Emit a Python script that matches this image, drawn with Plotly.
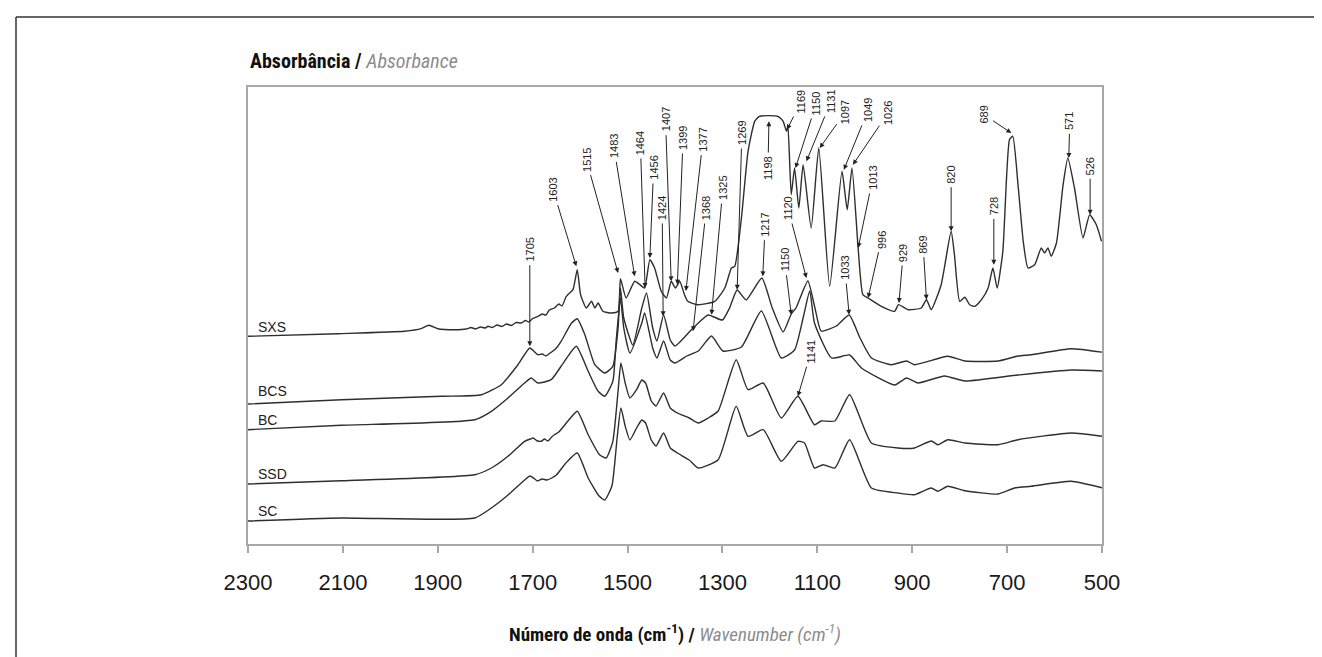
import plotly.graph_objects as go

# ---------------- data (absorbance, arbitrary offset units) ----------------
wn_sxs = [2300, 2110, 1970, 1935, 1919, 1900, 1864, 1840, 1830, 1820, 1810, 1800, 1794, 1785, 1775, 1765,
          1755, 1745, 1735, 1724, 1715, 1708, 1700, 1689, 1680, 1672, 1665, 1654, 1645, 1638, 1630,
          1626, 1615, 1606, 1599,
          1587, 1576, 1569, 1562, 1552, 1534, 1520, 1515, 1503, 1485, 1474, 1464, 1453, 1443, 1429,
          1418, 1408, 1399, 1390, 1380, 1373, 1352, 1316, 1295, 1281, 1274, 1260, 1246, 1232, 1222,
          1183, 1172, 1165, 1162, 1155, 1148, 1139, 1130, 1113, 1097, 1074, 1048, 1037, 1027, 1014,
          1004, 993, 965, 937, 929, 909, 881, 870, 860, 839, 818, 811, 800, 789, 779, 768, 754, 740,
          730, 721, 709, 695, 688, 677, 666, 656, 642, 628, 621, 614, 607, 596, 582, 572, 558, 540,
          526, 512, 501]
a_sxs = [2.077, 2.103, 2.127, 2.153, 2.187, 2.153, 2.143, 2.15, 2.165, 2.15, 2.17, 2.16, 2.177, 2.165, 2.19, 2.175,
         2.20, 2.185, 2.215, 2.21, 2.235, 2.22, 2.255, 2.277, 2.30, 2.29, 2.34, 2.36, 2.40, 2.38, 2.47,
         2.493, 2.543, 2.743, 2.493,
         2.36, 2.427, 2.36, 2.41, 2.327, 2.31, 2.327, 2.653, 2.46, 2.627, 2.593, 2.56, 2.843, 2.76, 2.527,
         2.46, 2.627, 2.56, 2.627, 2.493, 2.427, 2.393, 2.427, 2.56, 2.76, 2.777, 3.26, 3.927, 4.227, 4.277,
         4.277, 4.227, 4.127, 4.177, 3.493, 3.76, 3.36, 3.793, 3.16, 3.96, 2.577, 3.727, 3.343, 3.76, 2.96,
         2.493, 2.46, 2.377, 2.327, 2.393, 2.343, 2.36, 2.443, 2.343, 2.593, 3.127, 2.893, 2.427, 2.467, 2.393, 2.377, 2.443, 2.56,
         2.76, 2.56, 2.927, 4.043, 4.077, 3.593, 3.027, 2.76, 2.793, 2.96, 2.91, 2.96, 2.877, 3.01, 3.593, 3.86, 3.56, 3.06,
         3.293, 3.193, 3.027]

wn_bcs = [2300, 2103, 1892, 1808, 1766, 1731, 1706, 1689, 1680, 1672, 1668, 1660, 1652, 1640, 1618, 1606,
          1590, 1569, 1548,
          1531, 1520, 1515, 1508, 1489, 1470, 1460, 1447, 1438, 1424, 1410, 1400, 1368, 1351, 1330,
          1300, 1285, 1269, 1250, 1217, 1195, 1172, 1155, 1145, 1120, 1105, 1092, 1060, 1033, 1010,
          986, 944, 912, 895, 825, 789, 719, 677, 649, 565, 498]
a_bcs = [1.40, 1.443, 1.477, 1.493, 1.593, 1.793, 1.96, 1.893, 1.90, 1.88, 1.893, 1.92, 1.95, 2.027, 2.21, 2.253,
         2.093, 1.793, 1.71,
         1.777, 2.16, 2.56, 2.26, 1.99, 2.36, 2.51, 2.16, 2.03, 2.29, 2.04, 1.98, 2.13, 2.21, 2.29,
         2.24, 2.36, 2.54, 2.44, 2.66, 2.36, 2.12, 2.30, 2.36, 2.63, 2.36, 2.13, 2.18, 2.29, 2.06,
         1.86, 1.793, 1.83, 1.793, 1.877, 1.83, 1.83, 1.88, 1.893, 1.953, 1.917]

wn_bc = [2300, 2103, 1822, 1787, 1752, 1717, 1703, 1689, 1661, 1633, 1608, 1583, 1562, 1548, 1531,
         1524, 1515, 1508, 1495, 1470, 1464, 1447, 1438, 1424, 1410, 1400, 1375, 1351, 1323, 1299,
         1260, 1218, 1176, 1148, 1130, 1116, 1106, 1070, 1032, 1007, 937, 912, 888, 832, 789, 677,
         565, 498]
a_bc = [1.143, 1.187, 1.243, 1.327, 1.46, 1.61, 1.66, 1.61, 1.643, 1.827, 1.977, 1.727, 1.527, 1.477, 1.627,
        2.03, 2.46, 2.16, 1.91, 2.21, 2.31, 1.96, 1.86, 2.03, 1.84, 1.81, 1.88, 1.93, 2.08, 1.93,
        1.97, 2.33, 1.86, 1.94, 2.26, 2.53, 2.21, 1.86, 1.89, 1.76, 1.59, 1.66, 1.61, 1.68, 1.63, 1.69,
        1.74, 1.73]

wn_ssd = [2300, 2103, 1822, 1787, 1752, 1717, 1705, 1699, 1692, 1682, 1675, 1668, 1660, 1654, 1645, 1626,
          1606, 1583, 1559, 1545, 1531,
          1520, 1514, 1505, 1495, 1481, 1470, 1462, 1450, 1440, 1424, 1410, 1395, 1370, 1351, 1330,
          1309, 1271, 1246, 1214, 1176, 1141, 1106, 1092, 1063, 1032, 986, 930, 895, 860, 846, 825,
          789, 719, 677, 565, 498]
a_ssd = [0.60, 0.633, 0.693, 0.76, 0.877, 1.027, 1.05, 1.06, 1.035, 1.027, 1.05, 1.03, 1.07, 1.093, 1.12, 1.227,
         1.327, 1.093, 0.893, 0.86, 1.027,
         1.53, 1.81, 1.61, 1.46, 1.543, 1.64, 1.61, 1.43, 1.38, 1.51, 1.36, 1.31, 1.26, 1.21, 1.26,
         1.33, 1.843, 1.543, 1.61, 1.26, 1.477, 1.193, 1.23, 1.23, 1.493, 1.01, 0.96, 0.96, 1.03, 0.993, 1.043,
         1.01, 0.993, 1.043, 1.11, 1.077]

wn_sc = [2300, 2103, 1822, 1787, 1752, 1717, 1706, 1697, 1690, 1680, 1670, 1660, 1650, 1630, 1606,
         1583, 1560, 1548, 1533,
         1522, 1514, 1505, 1495, 1481, 1470, 1462, 1450, 1440, 1424, 1410, 1395, 1370, 1351, 1309,
         1271, 1246, 1214, 1176, 1141, 1127, 1106, 1088, 1063, 1032, 986, 930, 895, 860, 846, 825,
         789, 719, 684, 649, 565, 498]
a_sc = [0.23, 0.26, 0.26, 0.36, 0.49, 0.64, 0.68, 0.655, 0.63, 0.65, 0.64, 0.66, 0.69, 0.81, 0.91,
        0.66, 0.48, 0.44, 0.58,
        1.06, 1.36, 1.18, 1.04, 1.16, 1.24, 1.21, 1.04, 0.98, 1.11, 0.96, 0.91, 0.84, 0.76, 0.843,
        1.377, 1.077, 1.143, 0.827, 1.027, 1.01, 0.76, 0.793, 0.76, 1.043, 0.56, 0.51, 0.493, 0.56, 0.527, 0.577,
        0.533, 0.50, 0.56, 0.577, 0.627, 0.56]

series_names = ["SXS", "BCS", "BC", "SSD", "SC"]
series_label_y = [2.17, 1.53, 1.24, 0.70, 0.335]

tick_vals = [2300, 2100, 1900, 1700, 1500, 1300, 1100, 900, 700, 500]

# peak labels: text, peak wavenumber, absorbance at arrow tip, label wavenumber, label absorbance
peak_labels = [
    ("1705", 1706, 1.977, 1706, 2.943),
    ("1603", 1608, 2.777, 1657, 3.543),
    ("1515", 1520, 2.71, 1587, 3.843),
    ("1483", 1485, 2.677, 1529, 3.977),
    ("1464", 1463, 2.56, 1473, 4.01),
    ("1456", 1453, 2.86, 1445, 3.76),
    ("1424", 1425, 2.277, 1427, 3.36),
    ("1407", 1408, 2.627, 1420, 4.243),
    ("1399", 1395, 2.593, 1383, 4.06),
    ("1377", 1377, 2.53, 1341, 4.043),
    ("1368", 1362, 2.127, 1334, 3.36),
    ("1325", 1323, 2.293, 1299, 3.56),
    ("1269", 1269, 2.543, 1259, 4.11),
    ("1217", 1215, 2.677, 1210, 3.193),
    ("1198", 1202, 4.227, 1204, 3.76),
    ("1169", 1164, 4.143, 1134, 4.427),
    ("1150", 1146, 3.76, 1102, 4.41),
    ("1131", 1123, 3.827, 1071, 4.43),
    ("1097", 1095, 3.96, 1041, 4.32),
    ("1049", 1044, 3.743, 993, 4.34),
    ("1026", 1025, 3.793, 951, 4.31),
    ("1120", 1123, 2.66, 1162, 3.36),
    ("1150", 1155, 2.293, 1169, 2.843),
    ("1033", 1033, 2.293, 1042, 2.76),
    ("1013", 1014, 2.96, 983, 3.66),
    ("996", 993, 2.46, 965, 3.043),
    ("929", 928, 2.41, 919, 2.91),
    ("869", 870, 2.443, 877, 2.993),
    ("820", 818, 3.127, 818, 3.693),
    ("728", 728, 2.793, 728, 3.377),
    ("689", 691, 4.11, 749, 4.293),
    ("571", 570, 3.86, 568, 4.227),
    ("526", 525, 3.293, 525, 3.777),
    ("1141", 1141, 1.477, 1113, 1.927),
]

# ---------------- figure ----------------
W, H = 1322, 657
ML, MR, MT, MB = 240, 228, 79, 121
PW, PH = W - ML - MR, H - MT - MB

def px_to_paper_x(px):
    return (px - ML) / PW

def px_to_paper_y(py):
    return (H - MB - py) / PH

LINE = "#2e2e2e"
AXIS = "#a8a8a8"
NARROW = "Liberation Sans Narrow, Arial Narrow, Roboto Condensed, Liberation Sans, Arial, sans-serif"
ARIAL = "Liberation Sans, Arial, Helvetica, sans-serif"

fig = go.Figure()
for wn, a in [(wn_sxs, a_sxs), (wn_bcs, a_bcs), (wn_bc, a_bc), (wn_ssd, a_ssd), (wn_sc, a_sc)]:
    fig.add_trace(go.Scatter(x=wn, y=a, mode="lines",
                             line=dict(color=LINE, width=1.4, shape="spline", smoothing=0.5),
                             hoverinfo="skip", showlegend=False))

annotations = []
for name, yv in zip(series_names, series_label_y):
    annotations.append(dict(x=2283, y=yv, xref="x", yref="y", text=name, showarrow=False,
                            xanchor="left", yanchor="middle",
                            font=dict(family=ARIAL, size=14, color="#222")))

for txt, xt, yt, xl, yl in peak_labels:
    annotations.append(dict(x=xt, y=yt, xref="x", yref="y", ax=xl, ay=yl, axref="x", ayref="y",
                            text=txt, textangle=-90, showarrow=True, arrowhead=2, arrowsize=1,
                            arrowwidth=1, arrowcolor="#222", standoff=0, startstandoff=2,
                            font=dict(family=ARIAL, size=11, color="#222")))

annotations.append(dict(x=0, y=px_to_paper_y(53), xref="paper", yref="paper", xanchor="left",
                        yanchor="middle", showarrow=False,
                        text="<b>Absorbância /</b> <i><span style='color:#8c8c8c'>Absorbance</span></i>",
                        font=dict(family=NARROW, size=20, color="#111")))
annotations.append(dict(x=0.5, y=px_to_paper_y(625), xref="paper", yref="paper", xanchor="center",
                        yanchor="middle", showarrow=False,
                        text="<b>Número de onda (cm<sup>-1</sup>) /</b> <i><span style='color:#8c8c8c'>Wavenumber (cm<sup>-1</sup>)</span></i>",
                        font=dict(family=NARROW, size=19, color="#111")))

# outer frame (top, left, right edges)
fx0, fx1 = px_to_paper_x(8), px_to_paper_x(1320)
fy1, fy0 = px_to_paper_y(9), px_to_paper_y(700)
shapes = [
    dict(type="line", xref="paper", yref="paper", x0=fx0, x1=fx1, y0=fy1, y1=fy1, line=dict(color="#333", width=1.5)),
    dict(type="line", xref="paper", yref="paper", x0=fx0, x1=fx0, y0=fy0, y1=fy1, line=dict(color="#333", width=1.5)),
    dict(type="line", xref="paper", yref="paper", x0=fx1, x1=fx1, y0=fy0, y1=fy1, line=dict(color="#333", width=1.5)),
]

fig.update_layout(
    width=W, height=H, margin=dict(l=ML, r=MR, t=MT, b=MB, autoexpand=False),
    paper_bgcolor="white", plot_bgcolor="white",
    annotations=annotations, shapes=shapes,
    xaxis=dict(range=[2300, 500], tickvals=tick_vals, ticktext=[str(v) for v in tick_vals],
               ticks="outside", ticklen=7, tickwidth=1.5, tickcolor=AXIS,
               showline=True, linecolor=AXIS, linewidth=2, mirror=True,
               showgrid=False, zeroline=False, ticklabelstandoff=11,
               tickfont=dict(family=ARIAL, size=22, color="#1a1a1a")),
    yaxis=dict(range=[0, 4.57], showticklabels=False, ticks="", showline=True, linecolor=AXIS,
               linewidth=2, mirror=True, showgrid=False, zeroline=False),
)

fig.write_html("out.html")
